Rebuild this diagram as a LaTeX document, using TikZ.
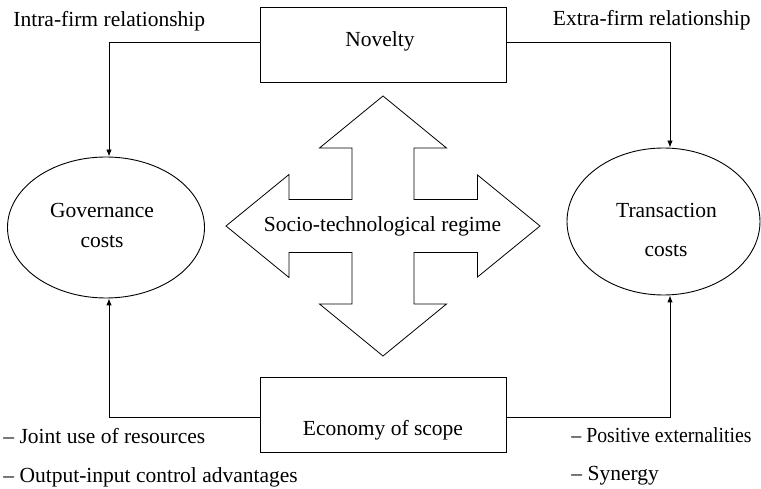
\documentclass[tikz,border=0pt]{standalone}
\usepackage{fontspec}
\setmainfont{Liberation Serif}
\usetikzlibrary{arrows.meta,shapes.geometric}
\begin{document}
\begin{tikzpicture}[x=1pt,y=-1pt,line width=0.9pt,
  box/.style={draw,rectangle,minimum width=246pt,minimum height=75pt,inner sep=0pt},
  oval/.style={draw,ellipse,inner sep=0pt},
  txt/.style={font=\fontsize{21.5}{25}\selectfont,inner sep=0pt},
  link/.style={-{Latex[length=7pt,width=5.5pt]}}]
\useasboundingbox (0,0) rectangle (761,489);

% boxes
\node[box] (nov) at (383,44.5) {};
\node[box] (eco) at (383,414.5) {};
\node[txt,anchor=base] (novt) at (380,46.5) {Novelty};
\node[txt,anchor=base] (ecot) at (383,435) {Economy of scope};

% cost ellipses
\node[oval,minimum width=197pt,minimum height=141pt] (gc) at (106,227.5) {};
\node[oval,minimum width=193pt,minimum height=147pt] (tc) at (663.5,221.5) {};
\node[txt,anchor=base] (gct1) at (102,218) {Governance};
\node[txt,anchor=base] (gct2) at (102,248) {costs};
\node[txt,anchor=base] (tct1) at (666.5,218) {Transaction};
\node[txt,anchor=base] (tct2) at (666,256.5) {costs};

% four-way arrow of the regime
\draw[shift={(383,226)},line width=0.8pt]
  (0,-130) -- (63.5,-78) -- (31,-78) -- (31,-26.5) -- (94.5,-26.5) -- (94.5,-51)
  -- (157,0) -- (94.5,51) -- (94.5,26.5) -- (31,26.5) -- (31,78) -- (63.5,78)
  -- (0,130) -- (-63.5,78) -- (-31,78) -- (-31,26.5) -- (-94,26.5) -- (-94,51.5)
  -- (-157,0) -- (-94,-51.5) -- (-94,-26.5) -- (-31,-26.5) -- (-31,-78) -- (-63.5,-78)
  -- cycle;
\node[txt,anchor=base] (reg) at (382.5,231.5) {Socio-technological regime};

% connectors
\draw[link] ([yshift=2.5pt]nov.west) -| ([xshift=3pt]gc.north);
\draw[link] ([yshift=2.5pt]nov.east) -| ([xshift=6.5pt]tc.north);
\draw[link] ([yshift=-2.5pt]eco.west) -| ([xshift=3pt]gc.south);
\draw[link] ([yshift=-2.5pt]eco.east) -| ([xshift=6.5pt]tc.south);

% side labels
\node[txt,anchor=base west] (intra) at (13,27) {Intra-firm relationship};
\node[txt,anchor=base east] (extra) at (751,26) {Extra-firm relationship};
\node[txt,anchor=base west] (joint) at (3,443) {– Joint use of resources};
\node[txt,anchor=base west] (outin) at (3,482) {– Output-input control advantages};
\node[txt,anchor=base west,xscale=0.92,transform shape] (posex) at (571,442) {– Positive externalities};
\node[txt,anchor=base west] (syn) at (571,480) {– Synergy};
\end{tikzpicture}
\end{document}
